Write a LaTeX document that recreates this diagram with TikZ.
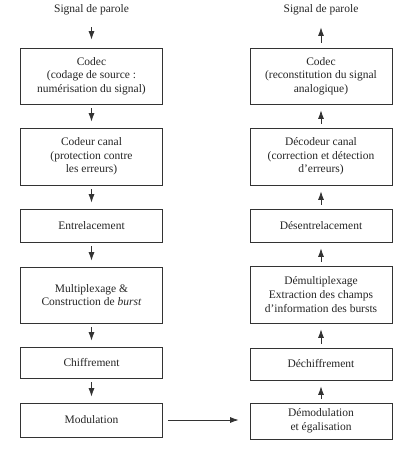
\documentclass[tikz,border=0pt]{standalone}
\usepackage{fontspec}
\setmainfont{Liberation Serif}
\usetikzlibrary{arrows.meta}
\begin{document}
\begin{tikzpicture}[x=1pt,y=-1pt,
  box/.style={draw=black!80, line width=0.8pt, minimum width=142pt, align=center, inner sep=2pt,
    font=\fontsize{11.5}{13.6}\selectfont, text=black!85},
  ttl/.style={font=\fontsize{11.5}{13.6}\selectfont, text=black!85, inner sep=1pt},
  arr/.style={draw=black!80, line width=0.8pt, -{Latex[length=8.5pt,width=6pt]}, shorten <=4pt, shorten >=6pt}
]
\path[fill=white] (0,0) rectangle (406,450);
\useasboundingbox (0,0) rectangle (406,450);
% left column
\node[ttl] (tl) at (91.5,10) {Signal de parole};
\node[box, minimum height=56pt] (l1) at (91.5,76) {Codec\\(codage de source :\\numérisation du signal)};
\node[box, minimum height=57pt] (l2) at (91.5,156.5) {Codeur canal\\(protection contre\\les erreurs)};
\node[box, minimum height=33pt] (l3) at (91.5,225.5) {Entrelacement};
\node[box, minimum height=56pt] (l4) at (91.5,295) {Multiplexage \&\\Construction de \textit{burst}};
\node[box, minimum height=31pt] (l5) at (91.5,362.5) {Chiffrement};
\node[box, minimum height=34pt] (l6) at (91.5,420) {Modulation};
% right column
\node[ttl] (tr) at (321,10) {Signal de parole};
\node[box, minimum height=56pt] (r1) at (321,76) {Codec\\(reconstitution du signal\\analogique)};
\node[box, minimum height=57pt] (r2) at (321,156.5) {Décodeur canal\\(correction et détection\\d'erreurs)};
\node[box, minimum height=33pt] (r3) at (321,225.5) {Désentrelacement};
\node[box, minimum height=57pt] (r4) at (321,294.5) {Démultiplexage\\Extraction des champs\\d'information des bursts};
\node[box, minimum height=32pt] (r5) at (321,364) {Déchiffrement};
\node[box, minimum height=36pt] (r6) at (321,421) {Démodulation\\et égalisation};
% arrows left
\draw[arr, shorten <=11pt, shorten >=8pt] (tl) -- (l1);
\draw[arr] (l1) -- (l2);
\draw[arr] (l2) -- (l3);
\draw[arr] (l3) -- (l4);
\draw[arr] (l4) -- (l5);
\draw[arr] (l5) -- (l6);
% arrows right
\draw[arr, shorten <=5pt, shorten >=11pt] (r1) -- (tr);
\draw[arr] (r2) -- (r1);
\draw[arr] (r3) -- (r2);
\draw[arr] (r4) -- (r3);
\draw[arr] (r5) -- (r4);
\draw[arr] (r6) -- (r5);
% horizontal
\draw[arr, shorten <=5pt, shorten >=11pt] (l6.east) -- (l6.east -| r6.west);
\end{tikzpicture}
\end{document}
